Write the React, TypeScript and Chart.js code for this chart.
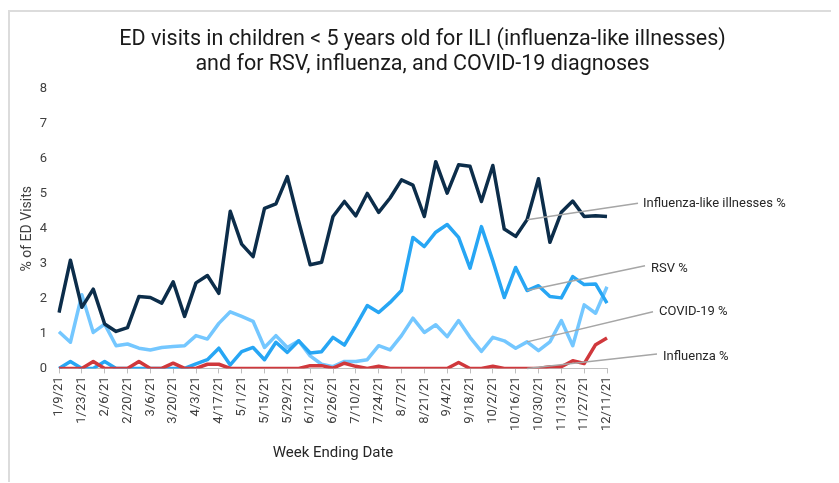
import React, { useEffect, useRef } from "react";
import { Chart, registerables } from "chart.js";

Chart.register(...registerables);

const weeks = [
  "1/9/21", "1/16/21", "1/23/21", "1/30/21", "2/6/21", "2/13/21", "2/20/21",
  "2/27/21", "3/6/21", "3/13/21", "3/20/21", "3/27/21", "4/3/21", "4/10/21",
  "4/17/21", "4/24/21", "5/1/21", "5/8/21", "5/15/21", "5/22/21", "5/29/21",
  "6/5/21", "6/12/21", "6/19/21", "6/26/21", "7/3/21", "7/10/21", "7/17/21",
  "7/24/21", "7/31/21", "8/7/21", "8/14/21", "8/21/21", "8/28/21", "9/4/21",
  "9/11/21", "9/18/21", "9/25/21", "10/2/21", "10/9/21", "10/16/21", "10/23/21",
  "10/30/21", "11/6/21", "11/13/21", "11/20/21", "11/27/21", "12/4/21", "12/11/21",
];

const iliPct = [
  1.6, 3.1, 1.75, 2.27, 1.27, 1.06, 1.17, 2.06, 2.03, 1.87, 2.48, 1.49, 2.45, 2.66,
  2.15, 4.5, 3.56, 3.2, 4.58, 4.71, 5.49, 4.2, 2.97, 3.04, 4.35, 4.78, 4.37, 5.01,
  4.47, 4.88, 5.4, 5.25, 4.35, 5.92, 5.02, 5.83, 5.79, 4.78, 5.81, 3.99, 3.78, 4.26,
  5.43, 3.61, 4.47, 4.79, 4.35, 4.37, 4.35,
];

const rsvPct = [
  0, 0.2, 0, 0, 0.2, 0, 0, 0, 0, 0, 0, 0, 0.13, 0.25,
  0.58, 0.1, 0.48, 0.6, 0.25, 0.75, 0.46, 0.79, 0.44, 0.48, 0.89, 0.67, 1.22, 1.8,
  1.6, 1.89, 2.23, 3.75, 3.49, 3.9, 4.12, 3.75, 2.87, 4.06, 3.08, 2.03, 2.89, 2.23,
  2.37, 2.06, 2.02, 2.63, 2.4, 2.42, 1.87,
];

const covidPct = [
  1.05, 0.75, 2.11, 1.03, 1.27, 0.65, 0.7, 0.58, 0.53, 0.6, 0.63, 0.65, 0.94, 0.84,
  1.29, 1.62, 1.49, 1.35, 0.6, 0.94, 0.6, 0.79, 0.36, 0.12, 0.05, 0.2, 0.2, 0.25,
  0.65, 0.53, 0.94, 1.44, 1.03, 1.25, 0.91, 1.37, 0.89, 0.49, 0.89, 0.79, 0.58, 0.76,
  0.51, 0.76, 1.37, 0.65, 1.82, 1.58, 2.34,
];

const fluPct = [
  0, 0, 0, 0.2, 0, 0, 0, 0.2, 0, 0, 0.15, 0, 0, 0.12,
  0.12, 0, 0, 0, 0, 0, 0, 0, 0.08, 0.08, 0.01, 0.15, 0.06, 0,
  0.06, 0, 0, 0, 0, 0, 0, 0.17, 0, 0, 0.06, 0, 0, 0,
  0, 0.05, 0.05, 0.22, 0.14, 0.68, 0.87,
];

const seriesNames = ["Influenza %", "Influenza-like illnesses %", "RSV %", "COVID-19 %"];
const seriesColors = ["#D0383C", "#0C2D4A", "#27A6F4", "#74C7FF"];

const titleLines = [
  "ED visits in children < 5 years old for ILI (influenza-like illnesses)",
  "and for RSV, influenza, and COVID-19 diagnoses",
];
const yAxisTitle = "% of ED Visits";
const xAxisTitle = "Week Ending Date";

const leaderPlugin = {
  id: "leaders",
  afterDatasetsDraw(chart: any, _args: any, opts: any) {
    const { ctx, chartArea, scales } = chart;
    ctx.save();
    opts.items.forEach((item: any) => {
      const meta = chart.getDatasetMeta(item.dataset);
      const pt = meta.data[opts.index];
      const ex = chartArea.right + item.dx;
      const ey = scales.y.getPixelForValue(item.yValue);
      ctx.strokeStyle = "#a6a6a6";
      ctx.lineWidth = 1.5;
      ctx.beginPath();
      ctx.moveTo(pt.x, pt.y);
      ctx.lineTo(ex, ey);
      ctx.stroke();
      ctx.fillStyle = "#262626";
      ctx.font = "13px Roboto";
      ctx.textAlign = "left";
      ctx.textBaseline = "middle";
      ctx.fillText(chart.data.datasets[item.dataset].label, ex + item.tx, ey + item.ty);
    });
    ctx.restore();
  },
};

export default function App() {
  const canvasRef = useRef<HTMLCanvasElement | null>(null);

  useEffect(() => {
    if (!canvasRef.current) return;
    Chart.defaults.font.family = "Roboto";
    const seriesData = [fluPct, iliPct, rsvPct, covidPct];
    const chart = new Chart(canvasRef.current, {
      type: "line",
      data: {
        labels: weeks,
        datasets: seriesNames.map((name, i) => ({
          label: name,
          data: seriesData[i],
          borderColor: seriesColors[i],
          backgroundColor: seriesColors[i],
          borderWidth: 3.5,
          pointRadius: 0,
          tension: 0,
          fill: false,
          borderJoinStyle: "round" as const,
          yAxisID: "y",
        })),
      },
      options: {
        responsive: false,
        animation: false,
        layout: { padding: { left: 0, right: 0, top: 0, bottom: 16 } },
        plugins: {
          legend: { display: false },
          tooltip: { enabled: false },
          title: {
            display: true,
            text: titleLines,
            color: "#1a1a1a",
            font: { size: 21.5, weight: "normal", family: "Roboto", lineHeight: "25px" },
            padding: { top: 15, bottom: 12 },
          },
          leaders: {
            index: 41,
            items: [
              { dataset: 1, dx: 31, yValue: 4.73, tx: 5, ty: 0.5 },
              { dataset: 2, dx: 38, yValue: 2.94, tx: 6, ty: 3 },
              { dataset: 3, dx: 46, yValue: 1.62, tx: 6, ty: 0 },
              { dataset: 0, dx: 50, yValue: 0.41, tx: 6, ty: 2.5 },
            ],
          },
        } as any,
        scales: {
          x: {
            offset: false,
            grid: {
              display: true,
              drawOnChartArea: false,
              drawTicks: true,
              tickLength: 5,
              color: (c: any) => (c.index % 2 === 0 ? "#bfbfbf" : "rgba(0,0,0,0)"),
            },
            border: { display: true, color: "#bfbfbf", width: 1 },
            ticks: {
              autoSkip: false,
              maxRotation: 90,
              minRotation: 90,
              padding: 3,
              color: "#404040",
              font: { size: 13 },
              callback: (_v: any, i: number) => (i % 2 === 0 ? weeks[i] : ""),
            },
            title: {
              display: true,
              text: xAxisTitle,
              color: "#262626",
              font: { size: 15 },
              padding: { top: 10, bottom: 4 },
            },
          },
          y: {
            min: 0,
            max: 8,
            grid: { display: false, drawTicks: false },
            border: { display: false },
            ticks: { stepSize: 1, padding: 12, color: "#404040", font: { size: 13 } },
            title: {
              display: true,
              text: yAxisTitle,
              color: "#404040",
              font: { size: 14 },
              padding: { top: 9, bottom: 2 },
            },
            afterFit: (scale: any) => {
              scale.width = 49;
            },
          },
          yRightSpace: {
            position: "right",
            display: true,
            grid: { display: false, drawTicks: false },
            border: { display: false },
            ticks: { display: false },
            afterFit: (scale: any) => {
              scale.width = 228;
            },
          },
        } as any,
      },
      plugins: [leaderPlugin],
    });
    return () => chart.destroy();
  }, []);

  return (
    <div
      style={{
        marginTop: 2,
        width: 825,
        height: 470,
        borderTop: "2px solid #dcdcdc",
        borderLeft: "2px solid #dcdcdc",
        borderRight: "2px solid #dcdcdc",
        background: "#fff",
      }}
    >
      <canvas ref={canvasRef} width={825} height={470} style={{ display: "block" }} />
    </div>
  );
}
